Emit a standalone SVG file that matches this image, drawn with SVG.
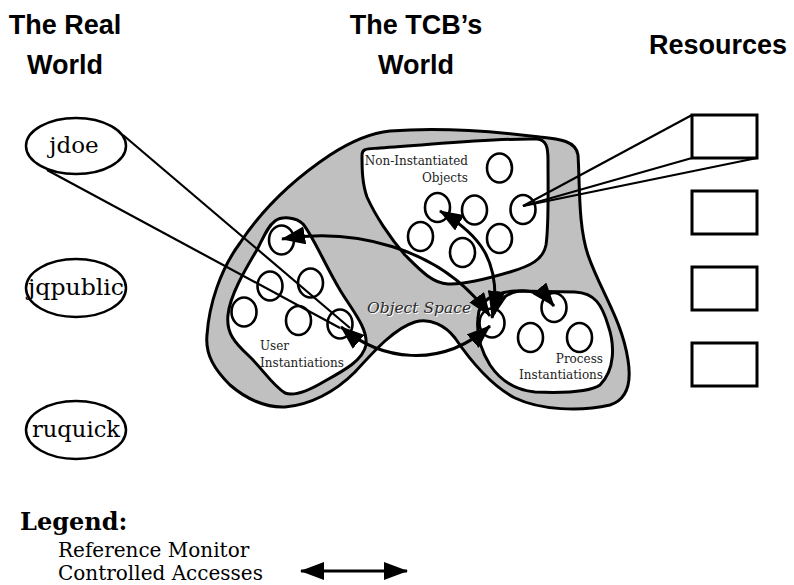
<svg xmlns="http://www.w3.org/2000/svg" width="794" height="585" viewBox="0 0 794 585">
  <style>
    .title { font-family: "Liberation Sans", Arial, sans-serif; font-weight: bold; font-size: 27px; fill: #000; text-anchor: middle; }
    .user { font-family: "DejaVu Serif", "Liberation Serif", serif; font-size: 23px; fill: #000; text-anchor: middle; }
    .small { font-family: "DejaVu Serif", "Liberation Serif", serif; font-size: 12px; fill: #222; }
    .space { font-family: "DejaVu Serif", "Liberation Serif", serif; font-style: italic; font-size: 15.5px; }
    .legend { font-family: "DejaVu Serif", "Liberation Serif", serif; font-size: 20px; fill: #000; }
    .legend-head { font-family: "DejaVu Serif", "Liberation Serif", serif; font-size: 24px; font-weight: bold; fill: #000; }
    .outline { fill: none; stroke: #000; stroke-width: 2.5; }
    .blob { fill: #c0c0c0; stroke: #000; stroke-width: 3; stroke-linejoin: round; }
    .region { fill: #fff; stroke: #000; stroke-width: 3; stroke-linejoin: round; }
    .obj { fill: #fff; stroke: #000; stroke-width: 2.6; }
    .box { fill: #fff; stroke: #000; stroke-width: 3; }
    .beam { fill: none; stroke: #000; stroke-width: 2.2; }
    .access { fill: none; stroke: #000; stroke-width: 3; marker-start: url(#head); marker-end: url(#head); }
  </style>
  <defs>
    <!-- filled triangular head used at both ends of every controlled access -->
    <marker id="head" viewBox="0 0 24 18" refX="23" refY="9" markerWidth="24" markerHeight="18" markerUnits="userSpaceOnUse" orient="auto-start-reverse">
      <path d="M0,0 L24,9 L0,18 Z" fill="#000"/>
    </marker>
  </defs>

  <!-- column headings -->
  <g id="headings">
    <text class="title" x="65" y="34">The Real</text>
    <text class="title" x="65" y="74">World</text>
    <text class="title" x="416" y="34">The TCB’s</text>
    <text class="title" x="416" y="74">World</text>
    <text class="title" x="718" y="54">Resources</text>
  </g>

  <!-- real-world users -->
  <g id="user-jdoe">
    <ellipse class="outline" cx="76" cy="146" rx="50" ry="28"/>
    <text class="user" x="74" y="153">jdoe</text>
  </g>
  <g id="user-jqpublic">
    <ellipse class="outline" cx="76" cy="288" rx="50" ry="29"/>
    <text class="user" x="76" y="295" textLength="96" lengthAdjust="spacingAndGlyphs">jqpublic</text>
  </g>
  <g id="user-ruquick">
    <ellipse class="outline" cx="76" cy="430" rx="50" ry="29"/>
    <text class="user" x="76" y="437" textLength="88" lengthAdjust="spacingAndGlyphs">ruquick</text>
  </g>

  <!-- TCB object space -->
  <g id="object-space">
    <path class="blob" d="M 390,131 C 440,127 500,132 540,137 C 560,139 576,141 578,155 C 580,185 578,225 588,255 C 600,290 622,320 628,360 C 632,385 626,400 610,405 C 580,412 540,410 515,398 C 490,385 470,360 455,338 C 445,325 430,318 415,322 C 395,328 375,350 355,372 C 335,392 310,405 285,407 C 265,408 245,398 230,385 C 215,370 205,355 207,335 C 209,305 220,270 240,243 C 265,205 300,175 330,155 C 350,142 370,133 390,131 Z"/>
    <text x="368" y="314" class="space" fill="#fff">Object Space</text>
    <text x="367" y="313" class="space" fill="#2a2a2a">Object Space</text>
  </g>

  <g id="non-instantiated-objects">
    <path class="region" d="M 362,155 C 362,148 368,149 380,148 C 430,145 490,138 537,139 C 546,140 548,146 548,160 C 548,190 549,225 546,245 C 543,260 530,266 510,272 C 490,278 465,285 448,284 C 432,283 420,270 405,255 C 390,238 375,215 367,197 C 362,183 362,168 362,155 Z"/>
    <text class="small" x="468" y="165" text-anchor="end">Non-Instantiated</text>
    <text class="small" x="468" y="182" text-anchor="end">Objects</text>
    <ellipse class="obj" cx="499.5" cy="168" rx="12.5" ry="14.5"/>
    <ellipse class="obj" cx="437.5" cy="207.5" rx="12.5" ry="14.5"/>
    <ellipse class="obj" cx="474.5" cy="210" rx="12.5" ry="14.5"/>
    <ellipse class="obj" cx="523" cy="209.5" rx="12.5" ry="14.5"/>
    <ellipse class="obj" cx="420.5" cy="236.5" rx="12.5" ry="14.5"/>
    <ellipse class="obj" cx="499.5" cy="238.5" rx="12.5" ry="14.5"/>
    <ellipse class="obj" cx="462.5" cy="252.5" rx="12.5" ry="14.5"/>
  </g>

  <g id="user-instantiations">
    <path class="region" d="M 275,221 C 282,216 296,217 303,224 C 313,236 325,265 340,290 C 352,310 368,328 366,345 C 363,360 345,370 325,381 C 310,390 295,397 285,393 C 272,385 262,368 248,355 C 235,343 226,333 228,315 C 230,295 245,270 258,248 C 264,236 268,226 275,221 Z"/>
    <text class="small" x="260" y="350">User</text>
    <text class="small" x="260" y="367">Instantiations</text>
    <ellipse class="obj" cx="281.5" cy="240" rx="12.5" ry="14.5"/>
    <ellipse class="obj" cx="270" cy="286" rx="12.5" ry="14.5"/>
    <ellipse class="obj" cx="310.5" cy="283" rx="12.5" ry="14.5"/>
    <ellipse class="obj" cx="244" cy="312" rx="12.5" ry="14.5"/>
    <ellipse class="obj" cx="298.5" cy="320.5" rx="12.5" ry="14.5"/>
    <ellipse class="obj" cx="340" cy="324" rx="12.5" ry="14.5"/>
  </g>

  <g id="process-instantiations">
    <path class="region" d="M 478,318 C 478,300 495,292 515,291 L 575,292 C 595,293 602,305 608,325 C 615,345 615,370 600,385 C 590,392 560,393 535,392 C 515,390 500,380 490,365 C 482,352 476,335 478,318 Z"/>
    <text class="small" x="603" y="363" text-anchor="end">Process</text>
    <text class="small" x="603" y="379" text-anchor="end">Instantiations</text>
    <ellipse class="obj" cx="492" cy="323" rx="12.5" ry="14.5"/>
    <ellipse class="obj" cx="554" cy="307.5" rx="12.5" ry="14.5"/>
    <ellipse class="obj" cx="530.5" cy="337.5" rx="12.5" ry="14.5"/>
    <ellipse class="obj" cx="579.5" cy="337.5" rx="12.5" ry="14.5"/>
  </g>

  <!-- resources -->
  <g id="resource-1"><rect class="box" x="692" y="115" width="65" height="43"/></g>
  <g id="resource-2"><rect class="box" x="692" y="191" width="65" height="43"/></g>
  <g id="resource-3"><rect class="box" x="692" y="267" width="65" height="43"/></g>
  <g id="resource-4"><rect class="box" x="692" y="343" width="65" height="43"/></g>

  <!-- connectors -->
  <g id="connectors">
    <path class="beam" d="M 123,135 L 350,328"/>
    <path class="beam" d="M 47,170 L 340,328"/>
    <path class="beam" d="M 692,115 L 523,206"/>
    <path class="beam" d="M 692,158 L 523,206"/>
    <path class="beam" d="M 757,158 L 523,206"/>
    <path class="access" d="M 282,239 C 350,228 440,245 490,316"/>
    <path class="access" d="M 440,211 C 480,235 500,260 494,314"/>
    <path class="access" d="M 492,318 C 500,285 535,283 554,306"/>
    <path class="access" d="M 341,327 C 380,360 440,370 490,326"/>
  </g>

  <!-- legend -->
  <g id="legend">
    <text class="legend-head" x="20" y="530">Legend:</text>
    <text class="legend" x="58" y="557">Reference Monitor</text>
    <text class="legend" x="58" y="580">Controlled Accesses</text>
    <path class="access" d="M 301,571 L 407,571"/>
  </g>
</svg>
